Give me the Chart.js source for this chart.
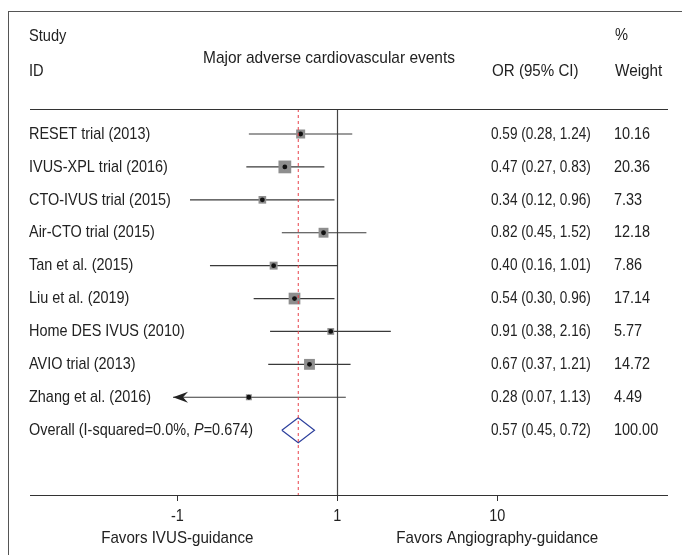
<!DOCTYPE html>
<html>
<head>
<meta charset="utf-8">
<script src="https://cdn.jsdelivr.net/npm/chart.js"></script>
<style>
  body { margin: 0; background: #fff; }
  canvas { display: block; }
</style>
</head>
<body>
<canvas id="forest" width="682" height="555"></canvas>
<script>
const studies = [
  "RESET trial (2013)",
  "IVUS-XPL trial (2016)",
  "CTO-IVUS trial (2015)",
  "Air-CTO trial (2015)",
  "Tan et al. (2015)",
  "Liu et al. (2019)",
  "Home DES IVUS (2010)",
  "AVIO trial (2013)",
  "Zhang et al. (2016)",
];
const orValues = [0.59, 0.47, 0.34, 0.82, 0.40, 0.54, 0.91, 0.67, 0.28];
const ciLow = [0.28, 0.27, 0.12, 0.45, 0.16, 0.30, 0.38, 0.37, 0.07];
const ciHigh = [1.24, 0.83, 0.96, 1.52, 1.01, 0.96, 2.16, 1.21, 1.13];
const weights = [10.16, 20.36, 7.33, 12.18, 7.86, 17.14, 5.77, 14.72, 4.49];

const overallOR = [0.57];
const overallCI = [0.45, 0.72];
const overallWeight = [100.0];

const tickValues = [0.1, 1, 10];
const tickLabels = ["-1", "1", "10"];

// CIs lower than this are cut and drawn with an arrow
const clipLow = 0.094;

// no narrow font installed, so text is squeezed horizontally
const FAMILY = '"Liberation Sans", Arial, sans-serif';
const FONT = "17px " + FAMILY;
const FONT_IT = "italic 17px " + FAMILY;
const TXT = "#222";
const overallRow = studies.length;
const fmt = (v) => v.toFixed(2);

function txt(ctx, s, x, y, sx, align) {
  ctx.save();
  ctx.translate(x, y);
  ctx.scale(sx, 1);
  ctx.textAlign = align || "left";
  ctx.fillText(s, 0, 0);
  ctx.restore();
}

const ciSets = studies.map((s, i) => ({
  type: "scatter",
  showLine: true,
  data: [
    { x: Math.max(ciLow[i], clipLow), y: i },
    { x: ciHigh[i], y: i },
  ],
  borderColor: "#3a3a3a",
  borderWidth: 1.2,
  pointRadius: 0,
  order: 3,
}));

const boxes = {
  type: "scatter",
  data: orValues.map((v, i) => ({ x: v, y: i })),
  pointStyle: "rect",
  pointRadius: (ctx) => 2 * Math.sqrt(weights[ctx.dataIndex]),
  backgroundColor: "#8e8e8e",
  borderWidth: 0,
  order: 2,
};

const dots = {
  type: "scatter",
  data: orValues.map((v, i) => ({ x: v, y: i })),
  pointStyle: "circle",
  pointRadius: 2.4,
  backgroundColor: "#111",
  borderWidth: 0,
  order: 1,
};

const dh = 0.38;
const diamond = {
  type: "scatter",
  showLine: true,
  data: [
    { x: overallCI[0], y: overallRow },
    { x: overallOR[0], y: overallRow - dh },
    { x: overallCI[1], y: overallRow },
    { x: overallOR[0], y: overallRow + dh },
    { x: overallCI[0], y: overallRow },
  ],
  borderColor: "#2c3f9c",
  borderWidth: 1.2,
  pointRadius: 0,
  fill: false,
  order: 1,
};

const forestPlugin = {
  id: "forest",
  beforeDraw(chart) {
    const ctx = chart.ctx;
    ctx.save();
    ctx.fillStyle = "#fff";
    ctx.fillRect(0, 0, chart.width, chart.height);
    ctx.restore();
  },
  beforeDatasetsDraw(chart) {
    const { ctx, chartArea } = chart;
    const x = chart.scales.x;
    ctx.save();
    // null line at OR = 1
    const x1 = Math.round(x.getPixelForValue(1)) + 0.5;
    ctx.strokeStyle = "#444";
    ctx.lineWidth = 1.2;
    ctx.beginPath();
    ctx.moveTo(x1, chartArea.top);
    ctx.lineTo(x1, chartArea.bottom);
    ctx.stroke();
    ctx.restore();
  },
  afterDatasetsDraw(chart) {
    const { ctx, chartArea } = chart;
    const x = chart.scales.x;
    const y = chart.scales.y;
    ctx.save();

    // overall effect dashed line
    const xo = x.getPixelForValue(overallOR[0]);
    ctx.strokeStyle = "#e8404a";
    ctx.lineWidth = 1;
    ctx.setLineDash([3, 3]);
    ctx.beginPath();
    ctx.moveTo(xo, chartArea.top);
    ctx.lineTo(xo, chartArea.bottom);
    ctx.stroke();
    ctx.setLineDash([]);

    // arrows for clipped CIs
    ctx.fillStyle = "#222";
    ciLow.forEach((lo, i) => {
      if (lo >= clipLow) return;
      const tx = x.getPixelForValue(clipLow);
      const ty = y.getPixelForValue(i);
      ctx.beginPath();
      ctx.moveTo(tx, ty);
      ctx.lineTo(tx + 15, ty - 5.5);
      ctx.lineTo(tx + 10, ty);
      ctx.lineTo(tx + 15, ty + 5.5);
      ctx.closePath();
      ctx.fill();
    });

    // frame
    ctx.strokeStyle = "#555";
    ctx.lineWidth = 1;
    ctx.strokeRect(8.5, 11.5, 900, 900);

    // header
    ctx.fillStyle = TXT;
    ctx.font = FONT;
    ctx.textBaseline = "middle";
    txt(ctx, "Study", 29, 36, 0.86);
    txt(ctx, "ID", 29, 71, 0.86);
    txt(ctx, "%", 615, 35, 0.86);
    txt(ctx, "OR (95% CI)", 492, 71, 0.89);
    txt(ctx, "Weight", 615, 71, 0.9);
    txt(ctx, "Major adverse cardiovascular events", 329, 58, 0.91, "center");

    ctx.strokeStyle = "#333";
    ctx.beginPath();
    ctx.moveTo(30, chartArea.top + 0.5);
    ctx.lineTo(668, chartArea.top + 0.5);
    ctx.stroke();

    // rows
    studies.forEach((s, i) => {
      const ry = y.getPixelForValue(i);
      txt(ctx, s, 29, ry, 0.85);
      txt(ctx, fmt(orValues[i]) + " (" + fmt(ciLow[i]) + ", " + fmt(ciHigh[i]) + ")", 491, ry, 0.8);
      txt(ctx, fmt(weights[i]), 614, ry, 0.85);
    });
    const oy = y.getPixelForValue(overallRow);
    let px = 29;
    const parts = [["Overall (I-squared=0.0%, ", FONT], ["P", FONT_IT], ["=0.674)", FONT]];
    parts.forEach(([t, f]) => {
      ctx.font = f;
      txt(ctx, t, px, oy, 0.85);
      px += ctx.measureText(t).width * 0.85;
    });
    ctx.font = FONT;
    txt(ctx, fmt(overallOR[0]) + " (" + fmt(overallCI[0]) + ", " + fmt(overallCI[1]) + ")", 491, oy, 0.8);
    txt(ctx, fmt(overallWeight[0]), 614, oy, 0.85);

    // tick labels and favours labels
    tickValues.forEach((v, i) => {
      txt(ctx, tickLabels[i], x.getPixelForValue(v), 516, 0.85, "center");
    });
    txt(ctx, "Favors IVUS-guidance", x.getPixelForValue(tickValues[0]), 538, 0.89, "center");
    txt(ctx, "Favors Angiography-guidance", x.getPixelForValue(tickValues[2]), 538, 0.89, "center");
    ctx.restore();
  },
};

new Chart(document.getElementById("forest"), {
  type: "scatter",
  data: { datasets: [dots, diamond, boxes, ...ciSets] },
  options: {
    responsive: false,
    animation: false,
    layout: { padding: { top: 109, left: 30, right: 15, bottom: 0 } },
    plugins: { legend: { display: false }, tooltip: { enabled: false } },
    scales: {
      x: {
        type: "logarithmic",
        min: 0.012,
        max: 115,
        afterBuildTicks: (scale) => {
          scale.ticks = tickValues.map((v) => ({ value: v }));
        },
        afterFit: (scale) => {
          scale.height = 60;
        },
        ticks: {
          autoSkip: false,
          maxRotation: 0,
          color: "rgba(0,0,0,0)",
          font: { family: FAMILY, size: 17 },
          callback: (v, i) => tickLabels[i],
        },
        grid: { drawOnChartArea: false, drawTicks: true, tickLength: 6, color: "#333" },
        border: { display: true, color: "#333", width: 1 },
      },
      y: {
        type: "linear",
        reverse: true,
        min: -0.76,
        max: 10.97,
        display: false,
      },
    },
  },
  plugins: [forestPlugin],
});
</script>
</body>
</html>
